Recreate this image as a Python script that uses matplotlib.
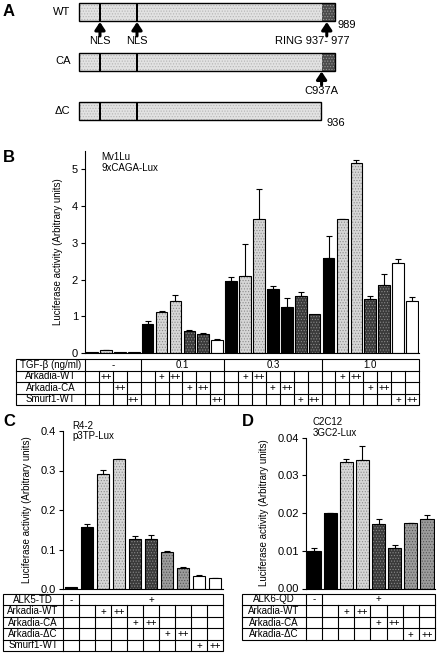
import numpy as np
import matplotlib
matplotlib.use("Agg")
import matplotlib.pyplot as plt
from matplotlib.patches import Rectangle

plt.rcParams["font.family"] = ["Liberation Sans", "DejaVu Sans"]
plt.rcParams["hatch.linewidth"] = 0.5

W, H = 439, 656

# ---- panel A: Arkadia constructs (residue numbers)
CONSTRUCTS = ["WT", "CA", "ΔC"]
CONSTRUCT_LEN = [989, 989, 936]
NLS_POS = [81, 224]
RING_START, RING_END = 937, 977
HAS_RING = [True, True, False]

# ---- panel B: Mv1Lu, 9xCAGA-Lux
B_MEAN = [0.03, 0.07, 0.02, 0.02,
          0.80, 1.12, 1.42, 0.60, 0.51, 0.35,
          1.97, 2.10, 3.64, 1.74, 1.26, 1.55, 1.06,
          2.58, 3.64, 5.17, 1.46, 1.85, 2.44, 1.42]
B_ERR = [0.0, 0.01, 0.0, 0.0,
         0.06, 0.02, 0.16, 0.03, 0.03, 0.03,
         0.11, 0.87, 0.82, 0.09, 0.23, 0.10, 0.0,
         0.61, 0.02, 0.09, 0.09, 0.30, 0.11, 0.10]
B_KIND = ["ctrl", "wt", "ca", "smurf",
          "ctrl", "wt", "wt", "ca", "ca", "smurf",
          "ctrl", "wt", "wt", "ctrl", "ctrl", "ca", "ca",
          "ctrl", "wt", "wt", "ca", "ca", "smurf", "smurf"]
B_GROUPS = ["-", "0.1", "0.3", "1.0"]
B_GROUP_SPAN = [4, 6, 7, 7]
B_ROWS = ["Arkadia-WT", "Arkadia-CA", "Smurf1-WT"]
B_CELLS = [
    ["", "++", "", "", "", "+", "++", "", "", "", "", "+", "++", "", "", "", "", "", "+", "++", "", "", "", ""],
    ["", "", "++", "", "", "", "", "+", "++", "", "", "", "", "+", "++", "", "", "", "", "", "+", "++", "", ""],
    ["", "", "", "++", "", "", "", "", "", "++", "", "", "", "", "", "+", "++", "", "", "", "", "", "+", "++"],
]

# ---- panel C: R4-2, p3TP-Lux
C_MEAN = [0.006, 0.157, 0.292, 0.328, 0.126, 0.127, 0.094, 0.054, 0.033, 0.028]
C_ERR = [0.0, 0.008, 0.010, 0.002, 0.009, 0.009, 0.002, 0.002, 0.002, 0.001]
C_KIND = ["ctrl", "ctrl", "wt", "wt", "ca", "ca", "dc", "dc", "smurf", "smurf"]
C_GROUPS = ["-", "+"]
C_GROUP_SPAN = [1, 9]
C_ROWS = ["Arkadia-WT", "Arkadia-CA", "Arkadia-ΔC", "Smurf1-WT"]
C_CELLS = [
    ["", "", "+", "++", "", "", "", "", "", ""],
    ["", "", "", "", "+", "++", "", "", "", ""],
    ["", "", "", "", "", "", "+", "++", "", ""],
    ["", "", "", "", "", "", "", "", "+", "++"],
]

# ---- panel D: C2C12, 3GC2-Lux
D_MEAN = [0.0100, 0.0199, 0.0336, 0.0340, 0.0170, 0.0108, 0.0173, 0.0183]
D_ERR = [0.0007, 0.0002, 0.0008, 0.0038, 0.0014, 0.0008, 0.0001, 0.0012]
D_KIND = ["ctrl", "ctrl", "wt", "wt", "ca", "ca", "dc", "dc"]
D_GROUPS = ["-", "+"]
D_GROUP_SPAN = [1, 7]
D_ROWS = ["Arkadia-WT", "Arkadia-CA", "Arkadia-ΔC"]
D_CELLS = [
    ["", "", "+", "++", "", "", "", ""],
    ["", "", "", "", "+", "++", "", ""],
    ["", "", "", "", "", "", "+", "++"],
]

# face colour, hatch colour
STYLE = {
    "ctrl": ("#000000", None),
    "wt": ("#d6d6d6", "#8c8c8c"),
    "ca": ("#3a3a3a", "#8a8a8a"),
    "dc": ("#9c9c9c", "#555555"),
    "smurf": ("#ffffff", None),
}
YLABEL = "Luciferase activity (Arbitrary units)"

fig = plt.figure(figsize=(W / 100, H / 100), dpi=100)


def px_axes(x0, y0, x1, y1):
    return fig.add_axes([x0 / W, 1 - y1 / H, (x1 - x0) / W, (y1 - y0) / H])


def draw_bars(ax, means, errs, kinds, width, ymax, yticks, fmt, labelpad):
    means = np.asarray(means)
    errs = np.asarray(errs)
    x = np.arange(len(means))
    for k, (face, hcol) in STYLE.items():
        idx = [i for i, kk in enumerate(kinds) if kk == k]
        if not idx:
            continue
        if hcol is None:
            ax.bar(x[idx], means[idx], width, color=face, linewidth=0, zorder=2)
        else:
            ax.bar(x[idx], means[idx], width, color=face, edgecolor=hcol,
                   hatch="......", linewidth=0, zorder=2)
    ax.bar(x, means, width, fill=False, edgecolor="black", linewidth=0.8, zorder=3)
    m = errs > 0
    ax.errorbar(x[m], means[m], yerr=[np.zeros(m.sum()), errs[m]], fmt="none",
                ecolor="black", elinewidth=0.8, capsize=2, capthick=0.8, zorder=1)
    ax.set_xlim(-0.5, len(means) - 0.5)
    ax.set_ylim(0, ymax)
    ax.set_yticks(yticks)
    ax.set_yticklabels([fmt.format(t) for t in yticks], fontsize=8)
    ax.set_xticks([])
    for s in ["top", "right"]:
        ax.spines[s].set_visible(False)
    ax.spines["left"].set_linewidth(0.8)
    ax.spines["bottom"].set_linewidth(0.8)
    ax.tick_params(axis="y", length=3, width=0.8, pad=2)
    ax.set_ylabel(YLABEL, fontsize=7, labelpad=labelpad)


def draw_table(ax, head, groups, spans, rows, cells, lab_w):
    ncols = sum(spans)
    nrows = len(rows) + 1
    left = -0.5 - lab_w
    ax.set_xlim(left, ncols - 0.5)
    ax.set_ylim(nrows, 0)
    ax.axis("off")
    lw = 0.8
    ax.add_patch(Rectangle((left, 0), ncols + lab_w, nrows, fill=False,
                           lw=lw, clip_on=False))
    for r in range(1, nrows):
        ax.plot([left, ncols - 0.5], [r, r], color="black", lw=lw, clip_on=False)
    ax.plot([-0.5, -0.5], [0, nrows], color="black", lw=lw, clip_on=False)
    # header row with merged cells
    start = 0
    for g, s in zip(groups, spans):
        end = start + s
        if end < ncols:
            ax.plot([end - 0.5, end - 0.5], [0, 1], color="black", lw=lw)
        ax.text((start + end - 1) / 2, 0.5, g, ha="center", va="center", fontsize=7)
        start = end
    for c in range(ncols - 1):
        ax.plot([c + 0.5, c + 0.5], [1, nrows], color="black", lw=lw)
    ax.text(left + lab_w / 2, 0.5, head, ha="center", va="center", fontsize=7)
    for r, (name, row) in enumerate(zip(rows, cells), start=1):
        ax.text(left + lab_w / 2, r + 0.5, name, ha="center", va="center", fontsize=7)
        for c, t in enumerate(row):
            if t:
                ax.text(c, r + 0.55, t, ha="center", va="center", fontsize=7)


# ---------------- panel A
axA = px_axes(0, 0, W, 135)
scale = 0.2589  # px per residue
axA.set_xlim(-79 / scale, (W - 79) / scale)
axA.set_ylim(135, 0)
axA.axis("off")
row_y = [12, 61.5, 110.5]
bh = 18
for name, length, ring, yc in zip(CONSTRUCTS, CONSTRUCT_LEN, HAS_RING, row_y):
    axA.add_patch(Rectangle((0, yc - bh / 2), length, bh, facecolor="#e2e2e2",
                            edgecolor="#b4b4b4", hatch="......", lw=0))
    if ring:
        axA.add_patch(Rectangle((RING_START, yc - bh / 2), length - RING_START, bh,
                                facecolor="#4a4a4a", edgecolor="#9a9a9a",
                                hatch="......", lw=0))
    for p in NLS_POS:
        axA.add_patch(Rectangle((p - 5, yc - bh / 2), 10, bh, color="black", lw=0))
    axA.add_patch(Rectangle((0, yc - bh / 2), length, bh, fill=False,
                            edgecolor="black", lw=1.0))
    axA.text(-33, yc, name, ha="right", va="center", fontsize=8)

arrow = dict(arrowstyle="-|>,head_width=0.3,head_length=0.45", lw=2.2, color="black",
             shrinkA=0, shrinkB=0)
for p in NLS_POS:
    axA.annotate("", xy=(p, 22), xytext=(p, 36), arrowprops=arrow)
    axA.text(p, 41.5, "NLS", ha="center", va="center", fontsize=8)
axA.annotate("", xy=(RING_START + 20, 22), xytext=(RING_START + 20, 36), arrowprops=arrow)
axA.text(RING_START - 38, 41.5, f"RING {RING_START}- {RING_END}", ha="center",
         va="center", fontsize=8)
axA.text(CONSTRUCT_LEN[0] + 10, 24.5, str(CONSTRUCT_LEN[0]), ha="left",
         va="center", fontsize=8)
axA.annotate("", xy=(RING_START, 71.5), xytext=(RING_START, 85), arrowprops=arrow)
axA.text(RING_START, 90.5, "C937A", ha="center", va="center", fontsize=8)
axA.text(CONSTRUCT_LEN[2] + 20, 123.5, str(CONSTRUCT_LEN[2]), ha="left",
         va="center", fontsize=8)

# ---------------- panel B
axB = px_axes(85, 151, 419, 353)
draw_bars(axB, B_MEAN, B_ERR, B_KIND, 0.84, 5.5, [0, 1, 2, 3, 4, 5], "{:.0f}", 6)
axB.text(0.05, 0.995, "Mv1Lu\n9xCAGA-Lux", transform=axB.transAxes, ha="left",
         va="top", fontsize=7, linespacing=1.1)
tB = px_axes(16, 359, 419, 405)
draw_table(tB, "TGF-β (ng/ml)", B_GROUPS, B_GROUP_SPAN, B_ROWS, B_CELLS,
           (85 - 16) / ((419 - 85) / 24))

# ---------------- panel C
axC = px_axes(63, 431, 223, 589)
draw_bars(axC, C_MEAN, C_ERR, C_KIND, 0.76, 0.4, [0, 0.1, 0.2, 0.3, 0.4],
          "{:.1f}", 6)
axC.text(0.06, 1.0, "R4-2\np3TP-Lux", transform=axC.transAxes, ha="left",
         va="center", fontsize=7, linespacing=1.1)
tC = px_axes(3, 594, 223, 651)
draw_table(tC, "ALK5-TD", C_GROUPS, C_GROUP_SPAN, C_ROWS, C_CELLS,
           (63 - 3) / ((223 - 63) / 10))

# ---------------- panel D
axD = px_axes(306, 437.5, 435, 588.5)
draw_bars(axD, D_MEAN, D_ERR, D_KIND, 0.82, 0.04,
          [0, 0.01, 0.02, 0.03, 0.04], "{:.2f}", 6)
axD.text(0.05, 1.0, "C2C12\n3GC2-Lux", transform=axD.transAxes, ha="left",
         va="bottom", fontsize=7, linespacing=1.1)
tD = px_axes(242, 593.5, 435, 640)
draw_table(tD, "ALK6-QD", D_GROUPS, D_GROUP_SPAN, D_ROWS, D_CELLS,
           (306 - 242) / ((435 - 306) / 8))

# panel letters
for letter, (x, y) in zip("ABCD", [(3, 12), (3, 158), (3, 422), (242, 422)]):
    fig.text(x / W, 1 - y / H, letter, fontsize=12, fontweight="bold",
             ha="left", va="center")

fig.savefig("out.png", dpi=100)
